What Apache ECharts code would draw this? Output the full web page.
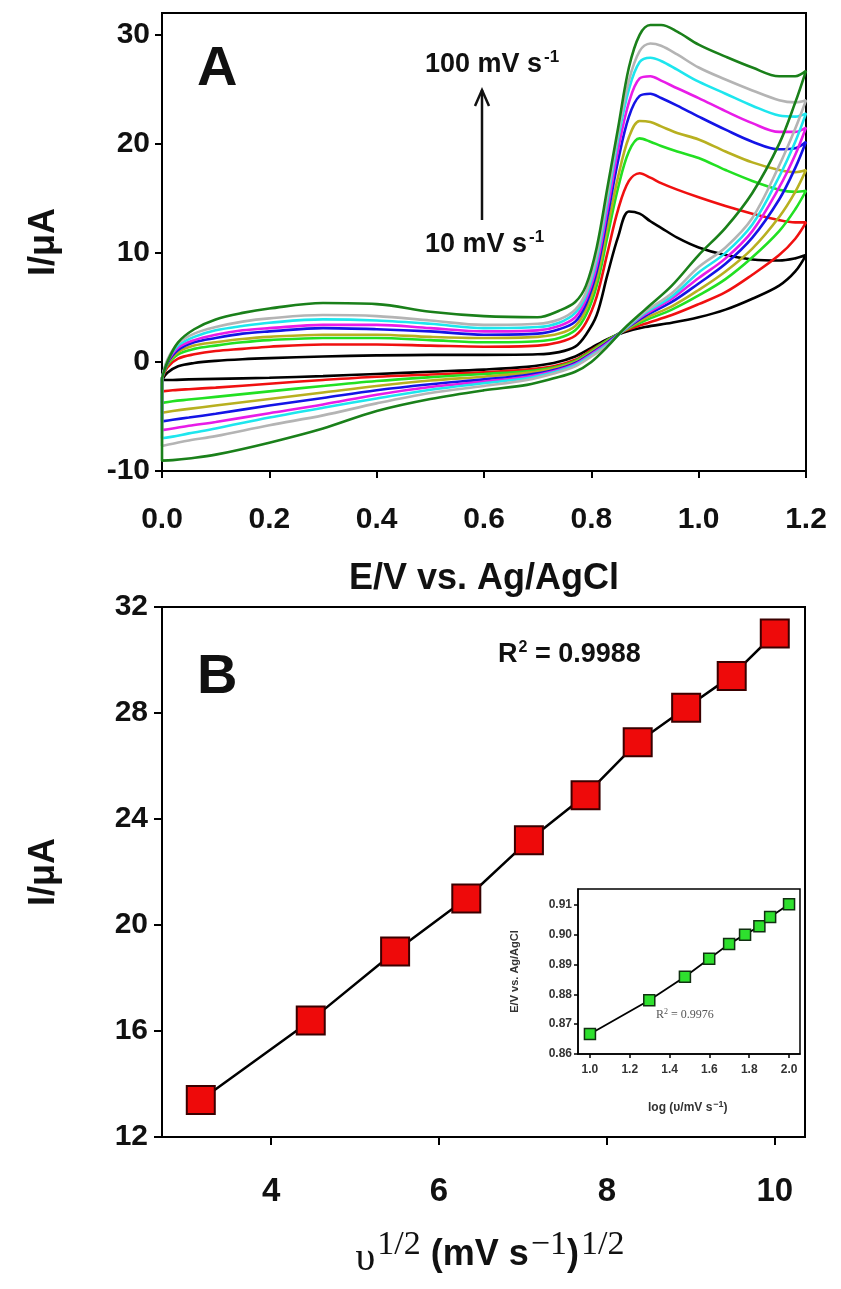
<!DOCTYPE html>
<html><head><meta charset="utf-8">
<script src="https://cdn.jsdelivr.net/npm/echarts@6/dist/echarts.min.js"></script>
<style>html,body{margin:0;padding:0;background:#fff}#c{width:841px;height:1289px}</style>
</head><body><div id="c"></div>
<script>
// ---------- Panel A : cyclic voltammograms ----------
const E_up   = [0,0.01,0.03,0.06,0.1,0.15,0.2,0.3,0.4,0.5,0.6,0.7,0.74,0.77,0.79,0.81,0.83,0.85,0.87,0.89,0.91,0.93,0.96,1.0,1.05,1.1,1.15,1.18,1.2];
const E_down = [1.2,1.18,1.15,1.1,1.05,1.0,0.95,0.9,0.86,0.83,0.8,0.77,0.73,0.68,0.6,0.5,0.4,0.3,0.2,0.1,0.05,0.02,0];

const I_up_10  = [-1.65,-1.0,-0.4,-0.1,0.1,0.25,0.35,0.5,0.6,0.65,0.65,0.7,0.9,1.4,2.5,4.3,8.0,11.5,13.8,13.6,12.9,12.3,11.4,10.5,9.8,9.4,9.3,9.5,9.8];
const I_up_20  = [-1.6,-0.5,0.3,0.7,1.0,1.2,1.4,1.6,1.6,1.5,1.4,1.5,1.8,2.4,3.6,6.0,10.0,14.0,16.6,17.3,16.9,16.4,15.8,15.1,14.3,13.6,13.0,12.8,12.8];
const I_up_30  = [-1.5,-0.3,0.7,1.2,1.5,1.8,2.0,2.2,2.2,2.0,1.8,1.9,2.2,2.9,4.3,7.0,11.5,16.0,19.3,20.5,20.2,19.8,19.3,18.7,17.6,16.6,15.8,15.6,15.7];
const I_up_40  = [-1.5,-0.2,0.9,1.5,1.8,2.1,2.3,2.5,2.5,2.3,2.2,2.3,2.6,3.3,4.8,7.6,12.3,17.0,20.6,22.1,22.0,21.6,21.0,20.4,19.3,18.3,17.6,17.4,17.6];
const I_up_60  = [-1.5,-0.1,1.1,1.8,2.2,2.6,2.8,3.1,3.0,2.8,2.5,2.6,3.0,3.7,5.3,8.3,13.3,18.5,22.5,24.4,24.6,24.2,23.5,22.5,21.3,20.2,19.5,19.6,20.2];
const I_up_70  = [-1.5,0.0,1.3,2.0,2.5,2.9,3.1,3.4,3.4,3.1,2.8,2.9,3.3,4.1,5.7,8.8,14.0,19.5,23.8,26.0,26.2,25.8,25.1,24.2,23.0,21.9,21.1,21.1,21.5];
const I_up_80  = [-1.5,0.1,1.5,2.3,2.9,3.3,3.6,3.9,3.8,3.5,3.1,3.2,3.6,4.5,6.1,9.4,14.8,20.5,25.0,27.5,27.9,27.6,26.8,25.7,24.6,23.5,22.6,22.5,22.8];
const I_up_90  = [-1.5,0.2,1.7,2.6,3.2,3.7,4.0,4.3,4.2,3.8,3.4,3.5,3.9,4.8,6.4,9.8,15.3,21.0,25.8,28.5,29.2,29.0,28.2,27.0,25.9,24.9,24.0,23.8,24.0];
const I_up_100 = [-1.5,0.0,1.8,3.0,3.9,4.5,4.9,5.4,5.3,4.6,4.2,4.1,4.7,5.5,7.0,10.5,16.0,21.5,27.0,30.0,30.9,30.9,30.3,29.1,28.0,27.0,26.2,26.2,26.7];

const I_dn_10  = [9.8,8.3,7.0,5.8,4.8,4.1,3.6,3.2,2.7,2.1,1.3,0.5,-0.1,-0.45,-0.7,-0.9,-1.1,-1.3,-1.45,-1.55,-1.6,-1.65,-1.65];
const I_dn_20  = [12.8,11.3,9.8,8.0,6.4,5.3,4.3,3.5,2.8,2.0,1.1,0.2,-0.4,-0.7,-0.95,-1.15,-1.35,-1.65,-2.0,-2.35,-2.5,-2.6,-2.7];
const I_dn_30  = [15.7,14.0,12.0,9.6,7.6,6.1,4.8,3.8,2.85,2.0,1.0,0.1,-0.5,-0.85,-1.1,-1.4,-1.75,-2.2,-2.7,-3.2,-3.45,-3.6,-3.75];
const I_dn_40  = [17.6,15.6,13.3,10.4,8.3,6.6,5.1,4.0,2.85,1.9,0.9,0.0,-0.6,-1.0,-1.35,-1.7,-2.2,-2.8,-3.4,-4.0,-4.3,-4.5,-4.65];
const I_dn_60  = [20.2,17.8,14.9,11.4,9.0,7.2,5.5,4.2,2.9,1.8,0.8,-0.1,-0.75,-1.2,-1.6,-2.05,-2.6,-3.3,-4.0,-4.75,-5.1,-5.3,-5.45];
const I_dn_70  = [21.5,19.0,16.0,12.0,9.5,7.7,5.8,4.35,2.9,1.7,0.7,-0.2,-0.85,-1.35,-1.8,-2.3,-3.0,-3.9,-4.7,-5.5,-5.85,-6.1,-6.25];
const I_dn_80  = [22.8,20.2,17.0,12.6,10.0,8.2,6.0,4.5,2.9,1.6,0.6,-0.3,-0.95,-1.5,-1.95,-2.55,-3.35,-4.2,-5.1,-6.1,-6.55,-6.85,-7.0];
const I_dn_90  = [24.0,21.4,18.0,13.2,10.5,8.7,6.3,4.6,2.95,1.5,0.5,-0.4,-1.05,-1.65,-2.2,-2.85,-3.8,-4.9,-5.8,-6.8,-7.2,-7.5,-7.7];
const I_dn_100 = [26.7,23.8,20.0,15.5,12.3,9.8,7.0,4.8,3.0,1.4,0.0,-0.9,-1.5,-2.1,-2.6,-3.4,-4.5,-6.1,-7.4,-8.5,-8.85,-9.0,-9.05];

const cvNames  = ['10','20','30','40','60','70','80','90','100'];
const cvColors = ['#000000','#f01010','#22e022','#b8b020','#1414e6','#e81ce8','#1ee6ee','#b4b4b4','#1a801a'];
const cvUp   = [I_up_10,I_up_20,I_up_30,I_up_40,I_up_60,I_up_70,I_up_80,I_up_90,I_up_100];
const cvDown = [I_dn_10,I_dn_20,I_dn_30,I_dn_40,I_dn_60,I_dn_70,I_dn_80,I_dn_90,I_dn_100];

const A_xTicks = [0,0.2,0.4,0.6,0.8,1.0,1.2];
const A_yTicks = [-10,0,10,20,30];

// ---------- Panel B : peak current vs sqrt(scan rate) ----------
const B_x = [3.162,4.472,5.477,6.325,7.071,7.746,8.367,8.944,9.487,10.0];
const B_y = [13.4,16.4,19.0,21.0,23.2,24.9,26.9,28.2,29.4,31.0];
const B_xTicks = [4,6,8,10];
const B_yTicks = [12,16,20,24,28,32];

// ---------- Inset : peak potential vs log(scan rate) ----------
const In_x = [1.0,1.298,1.477,1.599,1.699,1.779,1.851,1.905,2.0];
const In_y = [0.8667,0.878,0.8859,0.8919,0.8969,0.900,0.9028,0.9059,0.9102];
const In_xTicks = [1.0,1.2,1.4,1.6,1.8,2.0];
const In_yTicks = [0.86,0.87,0.88,0.89,0.90,0.91];

const FONT = '"Liberation Sans", Arial, sans-serif';
const SERIF = '"Liberation Serif", "Times New Roman", serif';

function loop(up, down){
  const pts = [];
  for (let i=0;i<E_up.length;i++) pts.push([E_up[i], up[i]]);
  for (let i=1;i<E_down.length;i++) pts.push([E_down[i], down[i]]);
  pts.push([E_up[0], up[0]]);
  return pts;
}

const axisLineS = {show:true, onZero:false, lineStyle:{color:'#000', width:2}};
const tickS = (len, vals) => ({show:true, inside:false, length:len, lineStyle:{color:'#000', width:2}, customValues: vals});

const series = [];
cvUp.forEach((u,i)=>{
  series.push({
    type:'line', name:cvNames[i], xAxisIndex:0, yAxisIndex:0,
    data: loop(u, cvDown[i]), showSymbol:false, smooth:0.35,
    lineStyle:{color:cvColors[i], width:2.6}, z: 2+i, silent:true
  });
});
series.push({
  type:'line', xAxisIndex:1, yAxisIndex:1,
  data: B_x.map((x,i)=>[x,B_y[i]]),
  symbol:'rect', symbolSize:28, showSymbol:true,
  lineStyle:{color:'#000', width:2.5},
  itemStyle:{color:'#ee0a0a', borderColor:'#3a0000', borderWidth:2},
  z:5, silent:true
});
series.push({
  type:'line', xAxisIndex:2, yAxisIndex:2,
  data: In_x.map((x,i)=>[x,In_y[i]]),
  symbol:'rect', symbolSize:11, showSymbol:true,
  lineStyle:{color:'#000', width:1.8},
  itemStyle:{color:'#2ee02e', borderColor:'#103010', borderWidth:1.5},
  z:30, silent:true
});

const option = {
  animation:false,
  backgroundColor:'#fff',
  grid:[
    {left:162, top:13, width:644, height:458, show:true, borderColor:'#000', borderWidth:2, backgroundColor:'transparent'},
    {left:162, top:607, width:643, height:530, show:true, borderColor:'#000', borderWidth:2, backgroundColor:'transparent'},
    {left:578, top:889, width:222, height:165, show:true, borderColor:'#000', borderWidth:1.5, backgroundColor:'#fff', z:10}
  ],
  xAxis:[
    {type:'value', gridIndex:0, min:0, max:1.2, interval:0.2,
     axisLine:axisLineS, axisTick:tickS(7), splitLine:{show:false},
     axisLabel:{fontFamily:FONT, fontWeight:'bold', fontSize:30, color:'#111', margin:34, formatter:v=>v.toFixed(1)},
     name:'E/V vs. Ag/AgCl', nameLocation:'middle', nameGap:90,
     nameTextStyle:{fontFamily:FONT, fontWeight:'bold', fontSize:36, color:'#111'}},
    {type:'value', gridIndex:1, min:2.7, max:10.36,
     axisLine:axisLineS, axisTick:tickS(8, B_xTicks), splitLine:{show:false},
     axisLabel:{fontFamily:FONT, fontWeight:'bold', fontSize:33, color:'#111', margin:38, customValues:B_xTicks, formatter:v=>String(v)}},
    {type:'value', gridIndex:2, min:0.94, max:2.055, z:11,
     axisLine:{show:true, onZero:false, lineStyle:{color:'#000', width:1.5}}, axisTick:{show:true, inside:false, length:4, lineStyle:{color:'#000', width:1.5}, customValues:In_xTicks}, splitLine:{show:false},
     axisLabel:{fontFamily:FONT, fontWeight:'bold', fontSize:12, color:'#333', margin:10, customValues:In_xTicks, formatter:v=>v.toFixed(1)}}
  ],
  yAxis:[
    {type:'value', gridIndex:0, min:-10, max:32, interval:10,
     axisLine:axisLineS, axisTick:tickS(7), splitLine:{show:false},
     axisLabel:{fontFamily:FONT, fontWeight:'bold', fontSize:30, color:'#111', margin:12, showMaxLabel:false,
       formatter:v=> (v>30?'':String(v))},
     name:'I/\u03bcA', nameLocation:'middle', nameGap:100, nameRotate:90,
     nameTextStyle:{fontFamily:FONT, fontWeight:'bold', fontSize:36, color:'#111'}},
    {type:'value', gridIndex:1, min:12, max:32, interval:4,
     axisLine:axisLineS, axisTick:tickS(8), splitLine:{show:false},
     axisLabel:{fontFamily:FONT, fontWeight:'bold', fontSize:30, color:'#111', margin:14},
     name:'I/\u03bcA', nameLocation:'middle', nameGap:100, nameRotate:90,
     nameTextStyle:{fontFamily:FONT, fontWeight:'bold', fontSize:36, color:'#111'}},
    {type:'value', gridIndex:2, min:0.86, max:0.9153, z:11,
     axisLine:{show:true, onZero:false, lineStyle:{color:'#000', width:1.5}}, axisTick:{show:true, inside:false, length:4, lineStyle:{color:'#000', width:1.5}, customValues:In_yTicks}, splitLine:{show:false},
     axisLabel:{fontFamily:FONT, fontWeight:'bold', fontSize:12, color:'#333', margin:6, customValues:In_yTicks, formatter:v=>v.toFixed(2)},
     name:'E/V vs. Ag/AgCl', nameLocation:'middle', nameGap:58, nameRotate:90,
     nameTextStyle:{fontFamily:FONT, fontWeight:'bold', fontSize:11, color:'#333'}}
  ],
  series: series,
  graphic:[
    {type:'text', left:197, top:42, z:20, style:{text:'A', font:'bold 56px '+FONT, fill:'#111'}},
    {type:'text', left:425, top:49, z:20, style:{text:'{b|100 mV s}{s|-1}', rich:{b:{font:'bold 27px '+FONT, fill:'#111'}, s:{font:'bold 17px '+FONT, fill:'#111', verticalAlign:'top', padding:[0,0,14,2]}}}},
    {type:'text', left:425, top:229, z:20, style:{text:'{b|10 mV s}{s|-1}', rich:{b:{font:'bold 27px '+FONT, fill:'#111'}, s:{font:'bold 17px '+FONT, fill:'#111', verticalAlign:'top', padding:[0,0,14,2]}}}},
    {type:'polyline', z:20, shape:{points:[[482,220],[482,90]]}, style:{stroke:'#111', lineWidth:2.5}},
    {type:'polyline', z:20, shape:{points:[[475,106],[482,90],[489,106]]}, style:{stroke:'#111', lineWidth:2.5, fill:null}},
    {type:'text', left:197, top:650, z:20, style:{text:'B', font:'bold 56px '+FONT, fill:'#111'}},
    {type:'text', left:498, top:640, z:20, style:{text:'{b|R}{s|2}{b| = 0.9988}', rich:{b:{font:'bold 27px '+FONT, fill:'#111'}, s:{font:'bold 16px '+FONT, fill:'#111', verticalAlign:'top', padding:[0,0,14,1]}}}},
    {type:'text', left:656, top:1008, z:20, style:{text:'{b|R}{s|2}{b| = 0.9976}', rich:{b:{font:'12px '+SERIF, fill:'#555'}, s:{font:'8px '+SERIF, fill:'#555', verticalAlign:'top', padding:[0,0,6,0]}}}},
    {type:'text', left:648, top:1100, z:20, style:{text:'{b|log (\u03c5/mV s}{s|\u22121}{b|)}', rich:{b:{font:'bold 12px '+FONT, fill:'#333'}, s:{font:'bold 9px '+FONT, fill:'#333', verticalAlign:'top', padding:[0,0,7,1]}}}},
    {type:'text', x:490, y:1255, z:20, style:{align:'center', verticalAlign:'middle', text:'{u|\u03c5}{s|1/2}{b| (mV s}{s|\u22121}{b|)}{s|1/2}', rich:{
      u:{font:'40px '+SERIF, fill:'#111', padding:[8,0,0,0]},
      b:{font:'bold 36px '+FONT, fill:'#111'},
      s:{font:'34px '+SERIF, fill:'#111', verticalAlign:'top', padding:[0,0,20,2]}}}}
  ]
};
const chart = echarts.init(document.getElementById('c'), null, {renderer:'canvas'});
chart.setOption(option);
</script></body></html>
